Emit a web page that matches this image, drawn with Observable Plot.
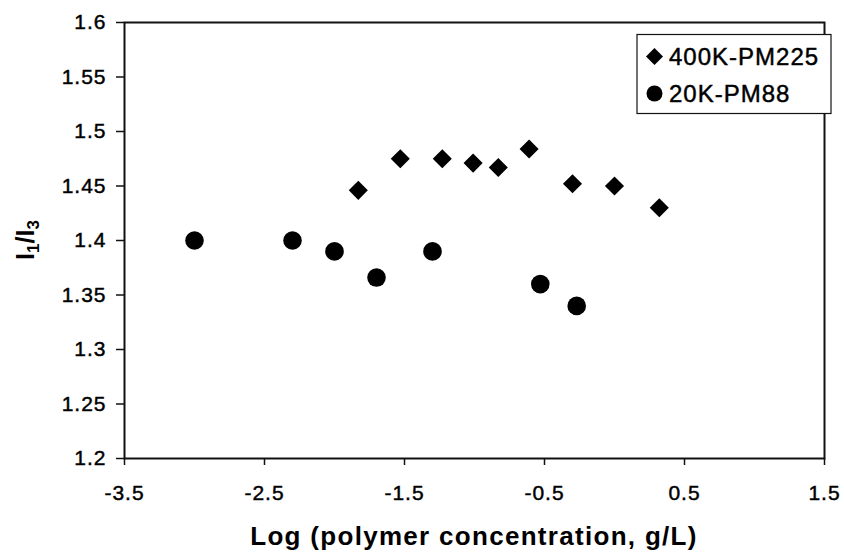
<!DOCTYPE html>
<html>
<head>
<meta charset="utf-8">
<script src="https://cdn.jsdelivr.net/npm/d3@7"></script>
<script src="https://cdn.jsdelivr.net/npm/@observablehq/plot@0.6"></script>
<style>
  html, body { margin: 0; padding: 0; background: #fff; }
  #chart svg { display: block; }
</style>
</head>
<body>
<div id="chart"></div>
<script>
// Series: 400K-PM225 (diamonds)
const pm225X = [-1.83, -1.53, -1.23, -1.01, -0.83, -0.61, -0.30, 0.0, 0.32];
const pm225Y = [1.446, 1.475, 1.475, 1.471, 1.467, 1.484, 1.452, 1.450, 1.430];
// Series: 20K-PM88 (circles)
const pm88X = [-3.0, -2.30, -2.0, -1.70, -1.30, -0.53, -0.27];
const pm88Y = [1.400, 1.400, 1.390, 1.366, 1.390, 1.360, 1.340];
// Tick labels
const xTicks = [-3.5, -2.5, -1.5, -0.5, 0.5, 1.5];
const yTicks = [1.2, 1.25, 1.3, 1.35, 1.4, 1.45, 1.5, 1.55, 1.6];
const seriesNames = ["400K-PM225", "20K-PM88"];
const xTitle = "Log (polymer concentration, g/L)";

const dPM225 = pm225X.map((x, i) => ({x, y: pm225Y[i]}));
const dPM88 = pm88X.map((x, i) => ({x, y: pm88Y[i]}));

const chart = Plot.plot({
  width: 844,
  height: 552,
  marginLeft: 124,
  marginRight: 20,
  marginTop: 22,
  marginBottom: 94,
  style: {fontFamily: "'Liberation Sans', Arial, sans-serif", background: "#fff", color: "#000"},
  x: {domain: [-3.5, 1.5]},
  y: {domain: [1.2, 1.6]},
  marks: [
    Plot.frame({stroke: "#111", strokeWidth: 2}),
    Plot.axisX({ticks: xTicks, tickFormat: d => String(d), tickSize: 7, tickPadding: 20, label: null, stroke: "#111", strokeWidth: 1.5}),
    Plot.axisY({ticks: yTicks, tickFormat: d => String(d), tickSize: 8, tickPadding: 10, label: null, stroke: "#111", strokeWidth: 1.5}),
    Plot.dot(dPM225, {x: "x", y: "y", symbol: "diamond2", r: 8.6, fill: "#000", stroke: "none"}),
    Plot.dot(dPM88, {x: "x", y: "y", symbol: "circle", r: 9.3, fill: "#000", stroke: "none"})
  ]
});
document.getElementById("chart").appendChild(chart);

const svg = d3.select(chart);
// tick labels (only tick labels exist as text at this point)
svg.selectAll("text")
  .style("font-size", "21px")
  .attr("fill", "#000")
  .attr("stroke", "#000")
  .attr("stroke-width", 0.45)
  .attr("letter-spacing", "1px");

const xr = chart.scale("x").range;
const yr = chart.scale("y").range;

// X title
svg.append("text")
  .attr("x", (xr[0] + xr[1]) / 2)
  .attr("y", 545)
  .attr("text-anchor", "middle")
  .style("font-size", "26px")
  .attr("font-weight", "bold")
  .attr("letter-spacing", "1.3px")
  .attr("fill", "#000")
  .text(xTitle);

// Y title I1/I3 with subscripts
const yt = svg.append("text")
  .attr("transform", `translate(34,${(yr[0] + yr[1]) / 2}) rotate(-90)`)
  .attr("text-anchor", "middle")
  .style("font-size", "25px")
  .attr("font-weight", "bold")
  .attr("fill", "#000");
yt.append("tspan").text("I");
yt.append("tspan").style("font-size", "17px").attr("dy", 5).text("1");
yt.append("tspan").attr("dy", -5).text("/I");
yt.append("tspan").style("font-size", "17px").attr("dy", 5).text("3");

// Legend
const lg = svg.append("g").attr("text-anchor", "start");
lg.append("rect").attr("x", 637).attr("y", 34.5).attr("width", 194).attr("height", 79)
  .attr("fill", "#fff").attr("stroke", "#111").attr("stroke-width", 1.2);
const symbols = [d3.symbol(d3.symbolDiamond2, 184)(), d3.symbol(d3.symbolCircle, 201)()];
const rowsY = [56.5, 93.5];
seriesNames.forEach((name, i) => {
  lg.append("path").attr("d", symbols[i]).attr("transform", `translate(654.5,${rowsY[i]})`).attr("fill", "#000");
  lg.append("text").attr("x", 669).attr("y", rowsY[i] + 8).attr("text-anchor", "start")
    .style("font-size", "24px").attr("letter-spacing", "1px")
    .attr("stroke", "#000").attr("stroke-width", 0.45)
    .attr("fill", "#000").text(name);
});
</script>
</body>
</html>
